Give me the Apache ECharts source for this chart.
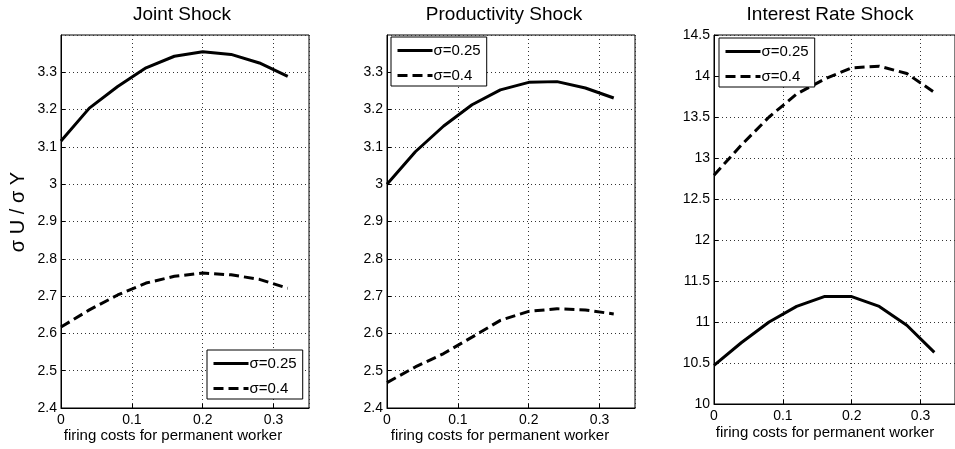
<!DOCTYPE html>
<html>
<head>
<meta charset="utf-8">
<script src="https://cdn.jsdelivr.net/npm/echarts@6/dist/echarts.min.js"></script>
<style>
html,body{margin:0;padding:0;background:#fff;}
#chart{width:955px;height:449px;}
</style>
</head>
<body>
<div id="chart"></div>
<script>
// ---- data ----
var firingCosts = [0, 0.04, 0.08, 0.12, 0.16, 0.20, 0.24, 0.28, 0.32];
var seriesNames = ['σ=0.25', 'σ=0.4'];
var panelTitles = ['Joint Shock', 'Productivity Shock', 'Interest Rate Shock'];
var xAxisTitle = 'firing costs for permanent worker';
var yAxisTitle = 'σ U / σ Y';

var jointLow   = [3.116, 3.204, 3.262, 3.312, 3.343, 3.355, 3.348, 3.325, 3.289];
var jointHigh  = [2.617, 2.663, 2.703, 2.735, 2.753, 2.762, 2.757, 2.745, 2.721];
var prodLow    = [3.000, 3.087, 3.156, 3.213, 3.253, 3.273, 3.275, 3.258, 3.231];
var prodHigh   = [2.468, 2.510, 2.546, 2.590, 2.635, 2.659, 2.666, 2.663, 2.652];
var rateLow    = [10.47, 10.75, 11.00, 11.19, 11.31, 11.31, 11.19, 10.96, 10.63];
var rateHigh   = [12.79, 13.16, 13.50, 13.78, 13.96, 14.10, 14.12, 14.03, 13.80];

var yRanges = [
  {min: 2.4, max: 3.4, interval: 0.1, showMax: false},
  {min: 2.4, max: 3.4, interval: 0.1, showMax: false},
  {min: 10, max: 14.5, interval: 0.5, showMax: true}
];

// ---- layout ----
var FONT = 'Liberation Sans, Arial, Helvetica, sans-serif';
var grids = [
  {left: 61, top: 35, width: 248, height: 373},
  {left: 387, top: 35, width: 248, height: 373},
  {left: 714, top: 35, width: 248, height: 369}
];
var legendPos = [
  {left: 207, top: 350},
  {left: 391, top: 37},
  {left: 719, top: 38}
];
var titlePos = [[182, 15], [504, 15], [830, 15]];
var xNamePos = [[173, 436], [500, 436], [825, 433]];

function pairs(xs, ys) { return xs.map(function (x, i) { return [x, ys[i]]; }); }
var panelData = [[jointLow, jointHigh], [prodLow, prodHigh], [rateLow, rateHigh]];

var option = {
  animation: false,
  backgroundColor: '#fff',
  grid: grids.map(function (g) {
    return Object.assign({show: true, borderColor: '#000', borderWidth: 1, backgroundColor: 'transparent'}, g);
  }),
  xAxis: grids.map(function (g, i) {
    return {
      type: 'value', gridIndex: i, min: 0, max: 0.35, interval: 0.1,
      axisLine: {show: true, onZero: false, lineStyle: {color: '#000', width: 1}},
      axisTick: {show: true, inside: true, length: 4, lineStyle: {color: '#000'}},
      axisLabel: {color: '#000', fontSize: 14, fontFamily: FONT, margin: 5, showMaxLabel: false},
      splitLine: {show: true, lineStyle: {color: '#333', width: 1, type: [1, 3]}}
    };
  }),
  yAxis: yRanges.map(function (r, i) {
    return {
      type: 'value', gridIndex: i, min: r.min, max: r.max, interval: r.interval,
      axisLine: {show: true, onZero: false, lineStyle: {color: '#000', width: 1}},
      axisTick: {show: true, inside: true, length: 4, lineStyle: {color: '#000'}},
      axisLabel: {color: '#000', fontSize: 14, fontFamily: FONT, margin: 4, showMaxLabel: r.showMax},
      splitLine: {show: true, lineStyle: {color: '#333', width: 1, type: [1, 3]}}
    };
  }),
  legend: legendPos.map(function (p) {
    return {
      left: p.left, top: p.top, orient: 'vertical',
      data: seriesNames,
      itemWidth: 35, itemHeight: 14, itemGap: 10,
      padding: [6, 6, 3, 5],
      borderColor: '#000', borderWidth: 1, borderRadius: 0,
      backgroundColor: '#fff',
      selectedMode: false,
      itemStyle: {opacity: 0, borderWidth: 0},
      lineStyle: {width: 3},
      textStyle: {color: '#000', fontSize: 15, fontFamily: FONT, padding: [0, 0, 0, -4]}
    };
  }),
  series: [],
  graphic: []
};

panelData.forEach(function (pd, i) {
  option.series.push({
    name: seriesNames[0], type: 'line', xAxisIndex: i, yAxisIndex: i,
    data: pairs(firingCosts, pd[0]), symbol: 'none', smooth: false,
    lineStyle: {color: '#000', width: 3, type: 'solid'},
    itemStyle: {color: '#000'}
  });
  option.series.push({
    name: seriesNames[1], type: 'line', xAxisIndex: i, yAxisIndex: i,
    data: pairs(firingCosts, pd[1]), symbol: 'none', smooth: false,
    lineStyle: {color: '#000', width: 3, type: [10, 5]},
    itemStyle: {color: '#000'}
  });
  option.graphic.push({
    type: 'text', x: titlePos[i][0], y: titlePos[i][1],
    style: {text: panelTitles[i], fill: '#000', fontSize: 19, fontFamily: FONT, align: 'center', verticalAlign: 'middle'}
  });
  option.graphic.push({
    type: 'text', x: xNamePos[i][0], y: xNamePos[i][1],
    style: {text: xAxisTitle, fill: '#000', fontSize: 15, fontFamily: FONT, align: 'center', verticalAlign: 'middle'}
  });
});
option.graphic.push({
  type: 'text', x: 18, y: 212, rotation: Math.PI / 2,
  style: {text: yAxisTitle, fill: '#000', fontSize: 20, fontFamily: FONT, align: 'center', verticalAlign: 'middle'}
});

var chart = echarts.init(document.getElementById('chart'), null, {renderer: 'canvas'});
chart.setOption(option);
</script>
</body>
</html>
